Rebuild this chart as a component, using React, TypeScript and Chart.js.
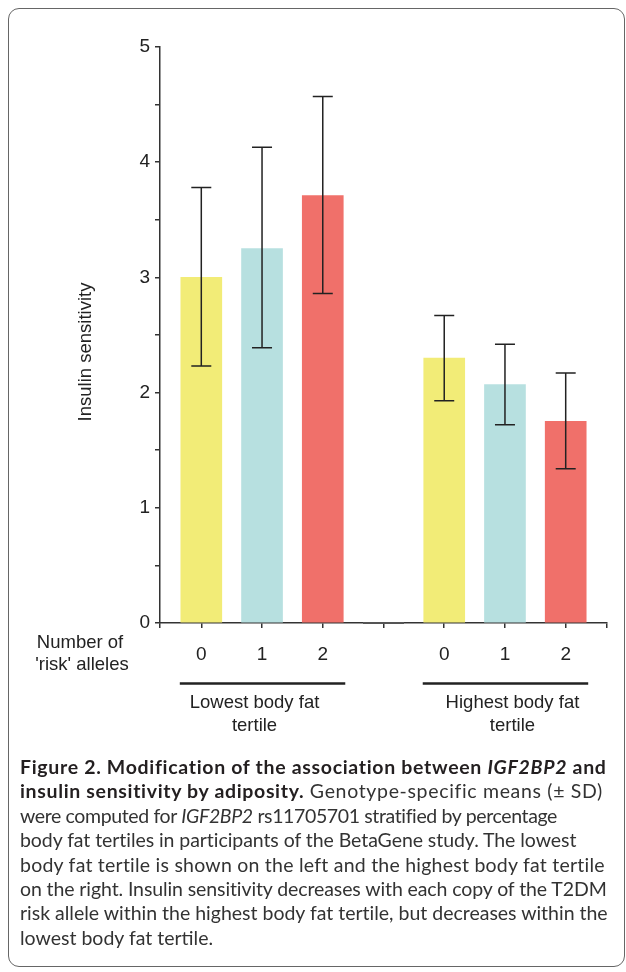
import React, { useEffect, useLayoutEffect, useRef } from 'react';
import { Chart, registerables } from 'chart.js';

Chart.register(...registerables);

// ---- data ----
const categories = ['0', '1', '2', '', '0', '1', '2'];
const means = [3.0, 3.25, 3.71, 0, 2.3, 2.07, 1.75];
const sdLower = [2.23, 2.39, 2.86, 0, 1.93, 1.72, 1.34];
const sdUpper = [3.78, 4.13, 4.57, 0, 2.67, 2.42, 2.17];
const barColors = ['#F2EC77', '#B7E0E0', '#F0706A', '#555555', '#F2EC77', '#B7E0E0', '#F0706A'];
const groupLabels = [['Lowest body fat', 'tertile'], ['Highest body fat', 'tertile']];
const groupRanges = [[0, 2], [4, 6]];
const xAxisTitle = ['Number of', "'risk' alleles"];
const yAxisTitle = 'Insulin sensitivity';

const FONT = '"Liberation Sans", Arial, Helvetica, sans-serif';
const INK = '#222222';

const overlayPlugin = {
  id: 'overlay',
  afterDatasetsDraw(chart: any) {
    const { ctx, scales } = chart;
    const x = scales.x;
    const y = scales.y;
    const meta = chart.getDatasetMeta(0);
    ctx.save();
    let bw = 41;
    meta.data.forEach((bar: any, i: number) => {
      const p = bar.getProps(['x', 'width'], true);
      bw = p.width;
      if (means[i] === 0) {
        const y0 = y.getPixelForValue(0);
        ctx.strokeStyle = '#555555';
        ctx.lineWidth = 2;
        ctx.beginPath();
        ctx.moveTo(p.x - p.width / 2, y0);
        ctx.lineTo(p.x + p.width / 2, y0);
        ctx.stroke();
      }
      if (sdUpper[i] > sdLower[i]) {
        const yt = y.getPixelForValue(sdUpper[i]);
        const yb = y.getPixelForValue(sdLower[i]);
        ctx.strokeStyle = INK;
        ctx.lineWidth = 1.5;
        ctx.beginPath();
        ctx.moveTo(p.x, yt);
        ctx.lineTo(p.x, yb);
        ctx.moveTo(p.x - 10, yt);
        ctx.lineTo(p.x + 10, yt);
        ctx.moveTo(p.x - 10, yb);
        ctx.lineTo(p.x + 10, yb);
        ctx.stroke();
      }
    });

    // y axis title
    ctx.fillStyle = INK;
    ctx.font = `18.5px ${FONT}`;
    ctx.textAlign = 'center';
    ctx.textBaseline = 'middle';
    ctx.save();
    ctx.translate(86, 352);
    ctx.rotate(-Math.PI / 2);
    ctx.fillText(yAxisTitle, 0, 0);
    ctx.restore();

    // x axis title
    ctx.fillText(xAxisTitle[0], 80, 643);
    ctx.fillText(xAxisTitle[1], 82, 665);

    // group lines & labels
    groupRanges.forEach((r, gi) => {
      const x1 = x.getPixelForValue(r[0]) - bw / 2 - 1;
      const x2 = x.getPixelForValue(r[1]) + bw / 2 + 2;
      ctx.strokeStyle = INK;
      ctx.lineWidth = 2.5;
      ctx.beginPath();
      ctx.moveTo(x1, 683.5);
      ctx.lineTo(x2, 683.5);
      ctx.stroke();
      const cx = (x1 + x2) / 2 + (gi === 0 ? -8 : 7);
      ctx.fillText(groupLabels[gi][0], cx, 703);
      ctx.fillText(groupLabels[gi][1], cx, 726);
    });
    ctx.restore();
  },
};

function Line({ width, children, style }: { width?: number; children: React.ReactNode; style?: React.CSSProperties }) {
  const ref = useRef<HTMLSpanElement>(null);
  useLayoutEffect(() => {
    const el = ref.current;
    if (!el || !width) return;
    el.style.letterSpacing = '0px';
    const natural = el.getBoundingClientRect().width;
    const chars = (el.textContent || '').length;
    if (chars > 1) {
      const ls = (width - natural) / chars;
      el.style.letterSpacing = `${ls}px`;
    }
  }, [width]);
  return (
    <div style={{ height: 24.4, lineHeight: '24.4px', whiteSpace: 'nowrap', ...style }}>
      <span ref={ref}>{children}</span>
    </div>
  );
}

export default function App() {
  const ref = useRef<HTMLCanvasElement>(null);
  useEffect(() => {
    if (!ref.current) return;
    const chart = new Chart(ref.current, {
      type: 'bar',
      data: {
        datasets: [
          {
            data: means.map((v, i) => ({ x: i, y: v })),
            backgroundColor: barColors,
            borderWidth: 0,
            barThickness: 41,
          },
        ],
      },
      options: {
        animation: false,
        responsive: false,
        maintainAspectRatio: false,
        layout: { padding: { left: 0, top: 47, right: 19, bottom: 0 } },
        plugins: { legend: { display: false }, tooltip: { enabled: false } },
        scales: {
          x: {
            type: 'linear',
            min: -0.68,
            max: 6.68,
            offset: false,
            afterBuildTicks: (s: any) => {
              s.ticks = [-0.68, 0, 1, 2, 3, 4, 5, 6, 6.68].map((v) => ({ value: v }));
            },
            afterFit: (s: any) => {
              s.height = 137;
            },
            ticks: {
              autoSkip: false,
              maxRotation: 0,
              padding: 15,
              color: INK,
              font: { family: FONT, size: 19 },
              callback: (v: any) =>
                Number.isInteger(v) && v >= 0 && v < categories.length ? categories[v] : '',
            },
            grid: {
              offset: false,
              drawOnChartArea: false,
              drawTicks: true,
              tickLength: 5,
              color: '#333333',
              lineWidth: 1.5,
            },
            border: { display: true, color: '#333333', width: 1.5 },
          },
          y: {
            min: 0,
            max: 5,
            afterFit: (s: any) => {
              s.width = 160;
            },
            ticks: {
              stepSize: 0.5,
              autoSkip: false,
              padding: 5,
              color: INK,
              font: { family: FONT, size: 19 },
              callback: (v: any) => (Number.isInteger(v) ? String(v) : ''),
            },
            grid: {
              drawOnChartArea: false,
              drawTicks: true,
              tickLength: 5,
              color: '#333333',
              lineWidth: 1.5,
            },
            border: { display: true, color: '#333333', width: 1.5 },
          },
        },
      },
      plugins: [overlayPlugin],
    } as any);
    return () => chart.destroy();
  }, []);

  const capFont = 'Lato, "Open Sans", sans-serif';
  return (
    <div style={{ position: 'absolute', left: 0, top: 0, width: 626, height: 972, background: '#fff', overflow: 'hidden' }}>
      <div
        style={{
          position: 'absolute',
          left: 8,
          top: 8,
          width: 617,
          height: 959,
          border: '1px solid #666',
          borderRadius: 11,
          boxSizing: 'border-box',
        }}
      />
      <canvas ref={ref} width={626} height={760} style={{ position: 'absolute', left: 0, top: 0, width: 626, height: 760 }} />
      <div style={{ position: 'absolute', left: 20, top: 755, fontFamily: capFont, fontSize: 19.5, color: '#333' }}>
        <Line width={587} style={{ fontWeight: 700, color: '#231f20' }}>
          Figure 2. Modification of the association between <i>IGF2BP2</i> and
        </Line>
        <Line width={583}>
          <b style={{ color: '#231f20' }}>insulin sensitivity by adiposity.</b> Genotype-specific means (± SD)
        </Line>
        <Line width={537}>
          were computed for <i>IGF2BP2</i> rs11705701 stratified by percentage
        </Line>
        <Line width={557}>body fat tertiles in participants of the BetaGene study. The lowest</Line>
        <Line width={585}>body fat tertile is shown on the left and the highest body fat tertile</Line>
        <Line width={587}>on the right. Insulin sensitivity decreases with each copy of the T2DM</Line>
        <Line width={588}>risk allele within the highest body fat tertile, but decreases within the</Line>
        <Line>lowest body fat tertile.</Line>
      </div>
    </div>
  );
}
